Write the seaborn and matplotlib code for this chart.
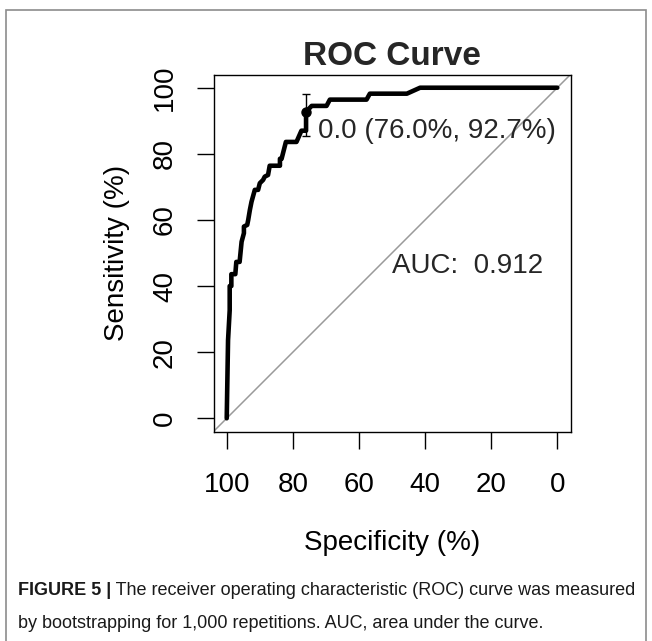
"""ROC curve with bootstrapped CI at the best threshold (pROC-like layout)."""

import matplotlib
matplotlib.use("Agg")
import matplotlib.pyplot as plt
import pandas as pd
import seaborn as sns
from matplotlib.patches import Rectangle

# ROC curve points (specificity runs 100 -> 0)
specificity = [100, 99.6, 99.1, 99.1, 98.6, 98.6, 97.4, 97.1, 96.1, 95.5, 94.8, 94.8,
               93.8, 93.5, 93.0, 92.5, 92.0, 91.5, 90.5, 90.0, 89.0, 88.5, 87.5, 87.0,
               83.9, 83.9, 83.4, 82.1, 78.9, 77.4, 76.0, 76.0, 74.3, 69.8, 68.8, 57.7,
               56.7, 45.5, 41.5, 0]
sensitivity = [0, 23.6, 32.7, 40.0, 40.0, 43.6, 43.6, 47.3, 47.3, 53.4, 56.0, 58.0,
               58.5, 60.0, 63.0, 65.5, 67.3, 69.1, 69.1, 71.1, 72.1, 73.1, 73.6, 76.4,
               76.4, 78.5, 78.5, 83.6, 83.6, 87.0, 87.0, 92.7, 94.5, 94.5, 96.4, 96.4,
               98.2, 98.2, 100, 100]

# best threshold and its sensitivity CI
thr_spec = 76.0
thr_sens = 92.7
thr_sens_ci = [85.5, 98.2]
thr_label = "0.0 (76.0%, 92.7%)"
auc_label = "AUC:  0.912"

tick_values = [100, 80, 60, 40, 20, 0]
diag_spec = [100, 0]
diag_sens = [0, 100]

title = "ROC Curve"
x_label = "Specificity (%)"
y_label = "Sensitivity (%)"
caption_bold = "FIGURE 5 |"
caption_line1 = " The receiver operating characteristic (ROC) curve was measured"
caption_line2 = "by bootstrapping for 1,000 repetitions. AUC, area under the curve."

W, H = 652, 641

sns.set_theme(style="ticks")
plt.rcParams["font.family"] = ["Liberation Sans", "DejaVu Sans"]

fig = plt.figure(figsize=(W / 100, H / 100), dpi=100)
fig.patch.set_facecolor("white")

# axes box in pixels: x 213.5..570.5, y 74.5..431.5 (from top)
ax = fig.add_axes([213.5 / W, 1 - 431.5 / H, 357 / W, 357 / H])
ax.set_facecolor("white")

# chance diagonal
ax.axline((diag_spec[0], diag_sens[0]), (diag_spec[1], diag_sens[1]),
          color="#9a9a9a", lw=1.1, zorder=2)

roc = pd.DataFrame({"specificity": specificity, "sensitivity": sensitivity})
sns.lineplot(data=roc, x="specificity", y="sensitivity", sort=False, estimator=None,
             color="black", lw=3.3, ax=ax, zorder=3)

ax.errorbar([thr_spec], [thr_sens],
            yerr=[[thr_sens - thr_sens_ci[0]], [thr_sens_ci[1] - thr_sens]],
            fmt="o", color="black", ms=6.5, elinewidth=1.0, capsize=3, capthick=1.0,
            zorder=4)
ax.annotate(thr_label, xy=(thr_spec, thr_sens), xytext=(8.6, -18.9),
            textcoords="offset points", ha="left", va="baseline", fontsize=20)
ax.annotate(auc_label, xy=(50, 50), xytext=(0, -14.5), textcoords="offset points",
            ha="left", va="baseline", fontsize=20)

ax.set_xlim(104, -4)
ax.set_ylim(-4, 104)
ax.set_xticks(tick_values)
ax.set_yticks(tick_values)
ax.set_xticklabels([str(v) for v in tick_values])
ax.set_yticklabels([str(v) for v in tick_values], rotation=90, va="center")
ax.tick_params(axis="both", direction="out", length=12, width=1.0, color="black",
               labelsize=20, labelcolor="black")
ax.tick_params(axis="x", pad=17.5)
ax.tick_params(axis="y", pad=13.5)
for spine in ax.spines.values():
    spine.set_visible(True)
    spine.set_color("black")
    spine.set_linewidth(1.0)

ax.set_xlabel(x_label, fontsize=20, labelpad=23, color="black")
ax.set_ylabel(y_label, fontsize=20, labelpad=16, color="black")
ax.set_title(title, fontsize=24, fontweight="bold", pad=7)

# thin gray frame around the figure panel
fig.patches.append(Rectangle((6 / W, -0.02), 640 / W, 1.02 - 10 / H,
                             transform=fig.transFigure, fill=False,
                             edgecolor="#8c8c8c", lw=1.2))

# caption, first words in bold
t_bold = fig.text(17.5 / W, 1 - 595 / H, caption_bold, fontsize=13,
                  fontweight="bold", va="baseline", color="#1a1a1a")
fig.canvas.draw()
bb = t_bold.get_window_extent()
fig.text(bb.x1 / W, 1 - 595 / H, caption_line1, fontsize=13, va="baseline",
         color="#1a1a1a")
fig.text(17.5 / W, 1 - 627.5 / H, caption_line2, fontsize=13, va="baseline",
         color="#1a1a1a")

fig.savefig("out.png", dpi=100)
